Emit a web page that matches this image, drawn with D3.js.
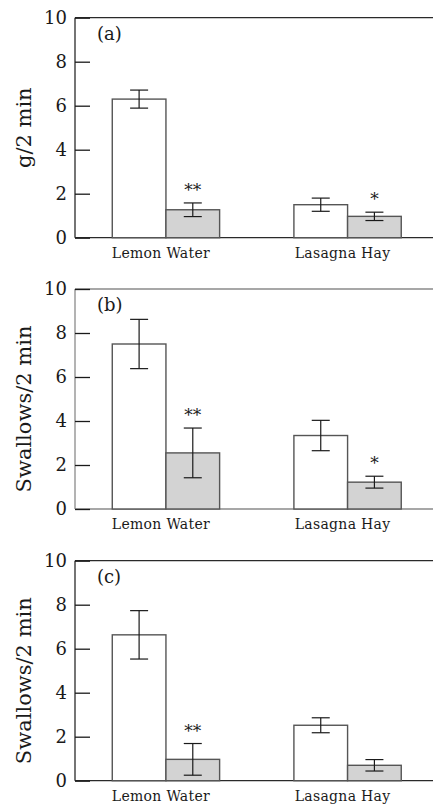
<!DOCTYPE html>
<html>
<head>
<meta charset="utf-8">
<script src="https://cdn.jsdelivr.net/npm/d3@7"></script>
<style>
  html, body { margin: 0; padding: 0; background: #fff; }
  svg { display: block; }
  text { font-family: "DejaVu Serif", serif; fill: #1a1a1a; }
</style>
</head>
<body>
<svg id="chart" width="433" height="806"></svg>
<script>
// ---- data ----
const categories = ["Lemon Water", "Lasagna Hay"];
const groups = ["control", "treatment"];
const panelLabels = ["(a)", "(b)", "(c)"];
const yTitles = ["g/2 min", "Swallows/2 min", "Swallows/2 min"];
const yTicks = [0, 2, 4, 6, 8, 10];

// means [Lemon Water, Lasagna Hay]
const controlMeans   = [[6.30, 1.50], [7.50, 3.34], [6.63, 2.52]];
const treatmentMeans = [[1.27, 0.97], [2.55, 1.22], [0.97, 0.70]];
// error (± half length)
const controlErr     = [[0.41, 0.30], [1.12, 0.69], [1.10, 0.34]];
const treatmentErr   = [[0.31, 0.19], [1.13, 0.27], [0.72, 0.26]];
// significance marks for the treatment bars
const signif         = [["**", "*"], ["**", "*"], ["**", ""]];

// ---- layout ----
const svg = d3.select("#chart");
const W = 433;
const left = 75;
const panelTops = [17.7, 289, 560.7];
const panelH = 220;
const FONT = "'DejaVu Serif', 'Liberation Serif', serif";

const x = d3.scaleBand().domain(categories).range([left, W])
  .paddingInner(0.409).paddingOuter(0.19).align(0.54);
const xs = d3.scaleBand().domain(groups).range([0, x.bandwidth()]).padding(0);

panelTops.forEach((top, i) => {
  const y = d3.scaleLinear().domain([0, 10]).range([top + panelH, top]);
  const g = svg.append("g").attr("font-family", FONT);
  const frameColor = i === 1 ? "#8a8a8a" : "#2a2a2a";

  g.append("line").attr("x1", left).attr("x2", left).attr("y1", y(0)).attr("y2", y(10))
    .attr("stroke", frameColor).attr("stroke-width", 1.3);
  g.append("line").attr("x1", left).attr("x2", W).attr("y1", y(10)).attr("y2", y(10))
    .attr("stroke", frameColor).attr("stroke-width", 1.3);
  g.append("line").attr("x1", left).attr("x2", W).attr("y1", y(0)).attr("y2", y(0))
    .attr("stroke", frameColor).attr("stroke-width", 1.3);

  const ax = g.append("g").attr("transform", `translate(${left},0)`)
    .call(d3.axisLeft(y).tickValues(yTicks).tickSize(-15).tickPadding(8).tickFormat(d3.format("d")));
  ax.attr("font-family", FONT).attr("font-size", 18);
  ax.select(".domain").remove();
  ax.selectAll(".tick line").attr("stroke", "#1a1a1a").attr("stroke-width", 1.3);
  ax.selectAll(".tick text").style("font-family", FONT).attr("font-size", 18).attr("fill", "#1a1a1a");

  const midY = top + panelH / 2 + (i > 0 ? 10 : 0);
  g.append("text")
    .attr("transform", `translate(31,${midY}) rotate(-90)`)
    .attr("text-anchor", "middle")
    .attr("font-size", 21)
    .style("font-family", FONT)
    .text(yTitles[i]);

  g.append("text").attr("x", 97).attr("y", top + 22).attr("font-size", 18)
    .style("font-family", FONT).text(panelLabels[i]);

  categories.forEach((c, j) => {
    const vals = [controlMeans[i][j], treatmentMeans[i][j]];
    const errs = [controlErr[i][j], treatmentErr[i][j]];
    groups.forEach((gr, k) => {
      const bx = x(c) + xs(gr);
      const bw = xs.bandwidth();
      g.append("rect")
        .attr("x", bx).attr("y", y(vals[k]))
        .attr("width", bw).attr("height", y(0) - y(vals[k]))
        .attr("fill", k === 0 ? "#ffffff" : "#d3d3d3")
        .attr("stroke", "#555").attr("stroke-width", 1.4);
      const cx = bx + bw / 2;
      const hi = y(vals[k] + errs[k]), lo = y(vals[k] - errs[k]);
      const eb = g.append("g").attr("stroke", "#1a1a1a").attr("stroke-width", 1.2);
      eb.append("line").attr("x1", cx).attr("x2", cx).attr("y1", hi).attr("y2", lo);
      eb.append("line").attr("x1", cx - 9).attr("x2", cx + 9).attr("y1", hi).attr("y2", hi);
      eb.append("line").attr("x1", cx - 9).attr("x2", cx + 9).attr("y1", lo).attr("y2", lo);
      if (k === 1 && signif[i][j]) {
        g.append("text").attr("x", cx).attr("y", hi - 7)
          .attr("text-anchor", "middle").attr("font-size", 17).attr("fill", "#555")
          .style("font-family", FONT)
          .text(signif[i][j]);
      }
    });
    g.append("text")
      .attr("x", x(c) + x.bandwidth() / 2 - 5)
      .attr("y", y(0) + 20)
      .attr("text-anchor", "middle")
      .attr("font-size", 14)
      .attr("letter-spacing", 0.3)
      .style("font-family", FONT)
      .text(c);
  });
});
</script>
</body>
</html>
